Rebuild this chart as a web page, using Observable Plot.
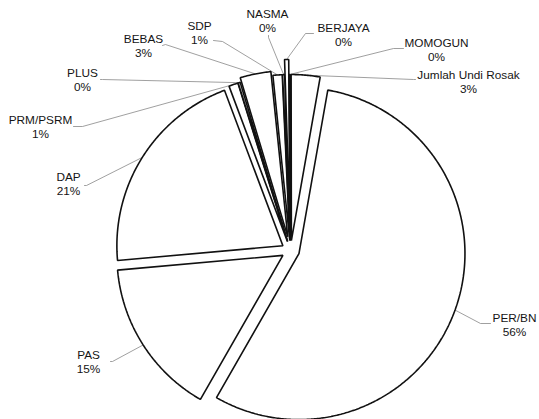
<!DOCTYPE html>
<html>
<head>
<meta charset="utf-8">
<script src="https://cdn.jsdelivr.net/npm/d3@7"></script>
<script src="https://cdn.jsdelivr.net/npm/@observablehq/plot@0.6"></script>
<style>
  html, body { margin: 0; padding: 0; background: #fff; }
  #chart svg { display: block; }
</style>
</head>
<body>
<div id="chart"></div>
<script>
// ---- Data ----
const parties = ["PER/BN", "PAS", "DAP", "PRM/PSRM", "PLUS", "BEBAS", "SDP", "NASMA", "BERJAYA", "MOMOGUN", "Jumlah Undi Rosak"];
const shares  = [55.5, 15.3, 20.7, 0.9, 0.2, 3.0, 0.9, 0.2, 0.4, 0.1, 2.8];

// ---- Layout (not data) ----
const W = 539, H = 419;
const center = {x: 290, y: 250};
const R = 166;
const startDeg = 10;
const explode = [9, 9, 9, 9.5, 9.5, 14, 10, 10, 25, 10, 10];
// label block centre and leader path near the label: [textX, textY, endX, endY, elbowX, elbowY]
const labelLayout = [
  [514, 324, 490, 323, 480, 323],
  [88, 361, 110, 361, 112, 361],
  [68, 183, 84, 185, 86, 185],
  [40, 126, 73, 126, 82, 126],
  [82, 79, 100, 79, 102, 79],
  [143, 45, 162, 45, 165, 44],
  [199, 32, 213, 40, 222, 41],
  [267, 20, 268, 35, 268, 37],
  [343, 34, 313, 33, 305, 33],
  [436, 49, 403, 48, 393, 48],
  [468, 81, 415, 79, 413, 79]
];

const rad = d => d * Math.PI / 180;
const arcs = d3.pie().sort(null).value(d => d)
  .startAngle(rad(startDeg)).endAngle(rad(startDeg) + 2 * Math.PI)(shares);

const pt = (cx, cy, r, a) => ({x: cx + r * Math.sin(a), y: cy - r * Math.cos(a)});

const slicePts = [];
const leaderPts = [];
const labels = [];
arcs.forEach((a, i) => {
  const mid = (a.startAngle + a.endAngle) / 2;
  const apex = pt(center.x, center.y, explode[i], mid);
  const name = parties[i];
  slicePts.push({name, ...apex});
  const steps = Math.max(2, Math.ceil((a.endAngle - a.startAngle) / rad(0.5)));
  for (let k = 0; k <= steps; k++) {
    const t = a.startAngle + (a.endAngle - a.startAngle) * k / steps;
    slicePts.push({name, ...pt(apex.x, apex.y, R, t)});
  }
  const L = labelLayout[i];
  const attach = pt(apex.x, apex.y, R, mid);
  leaderPts.push({name, ...attach});
  leaderPts.push({name, x: L[4], y: L[5]});
  leaderPts.push({name, x: L[2], y: L[3]});
  labels.push({x: L[0], y: L[1], text: name + "\n" + Math.round(a.data) + "%"});
});

const chart = Plot.plot({
  width: W,
  height: H,
  margin: 0,
  x: {domain: [0, W], range: [0, W], axis: null},
  y: {domain: [0, H], range: [0, H], axis: null},
  style: {background: "#fff", fontFamily: "'Liberation Sans', Arial, sans-serif"},
  marks: [
    Plot.line(leaderPts, {x: "x", y: "y", z: "name", stroke: "#888", strokeWidth: 0.8, curve: "linear"}),
    Plot.line(slicePts, {x: "x", y: "y", z: "name", fill: "white", stroke: "#111", strokeWidth: 1.6,
      strokeLinejoin: "miter", curve: "linear-closed"}),
    Plot.text(labels, {x: "x", y: "y", text: "text", fontSize: 11.8, lineHeight: 1.2,
      lineAnchor: "middle", textAnchor: "middle", fill: "#151515",
      fontFamily: "'Liberation Sans', Arial, sans-serif"})
  ]
});
document.getElementById("chart").appendChild(chart);
</script>
</body>
</html>
